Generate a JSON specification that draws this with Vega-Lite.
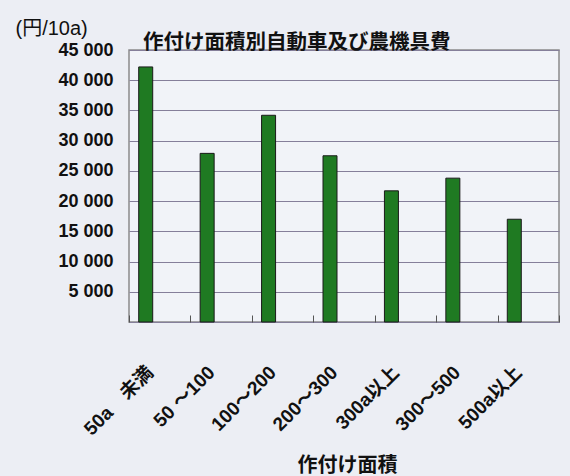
{
  "$schema": "https://vega.github.io/schema/vega-lite/v6.json",
  "width": 430,
  "height": 272,
  "autosize": {"type": "none"},
  "padding": {"left": 129, "top": 50, "right": 11, "bottom": 154},
  "background": "#eceef4",
  "config": {
    "view": {"stroke": "#8a8a8a", "strokeWidth": 1.5, "fill": "#f1f3f8"},
    "font": "Liberation Sans, Noto Sans CJK JP"
  },
  "title": {
    "text": "作付け面積別自動車及び農機具費",
    "anchor": "start",
    "frame": "group",
    "dx": 14,
    "dy": 39,
    "offset": 4,
    "fontSize": 20.5,
    "fontWeight": "bold",
    "font": "Noto Sans CJK JP",
    "color": "#111111"
  },
  "data": {
    "values": [
      {"area": "50a　未満", "cost": 42200},
      {"area": "50 ～100", "cost": 27900},
      {"area": "100～200", "cost": 34200},
      {"area": "200～300", "cost": 27500},
      {"area": "300a以上", "cost": 21700},
      {"area": "300～500", "cost": 23800},
      {"area": "500a以上", "cost": 17000}
    ]
  },
  "mark": {"type": "bar", "width": 14, "xOffset": -14, "fill": "#1f7a22", "stroke": "#1a1a1a", "strokeWidth": 1},
  "encoding": {
    "x": {
      "field": "area",
      "type": "nominal",
      "sort": null,
      "scale": {"paddingInner": 0, "paddingOuter": 0},
      "axis": {
        "title": "作付け面積",
        "titleFont": "Noto Sans CJK JP",
        "titleFontSize": 20,
        "titleFontWeight": "bold",
        "titleColor": "#111111",
        "titleBaseline": "alphabetic",
        "titleY": 149,
        "titleX": 218,
        "labelAngle": -45,
        "labelAlign": "right",
        "labelBaseline": "middle",
        "labelFontSize": 19,
        "labelFontWeight": "bold",
        "labelColor": "#111111",
        "labelPadding": 54,
        "labelOffset": -10,
        "tickBand": "extent",
        "tickSize": -7,
        "tickColor": "#555555",
        "domain": false,
        "grid": false
      }
    },
    "y": {
      "field": "cost",
      "type": "quantitative",
      "scale": {"domain": [0, 45000]},
      "axis": {
        "title": "(円/10a)",
        "titleAngle": 0,
        "titleAlign": "left",
        "titleBaseline": "alphabetic",
        "titleX": -114,
        "titleY": -16,
        "titleFontSize": 20,
        "titleFontWeight": "normal",
        "titleColor": "#111111",
        "values": [0, 5000, 10000, 15000, 20000, 25000, 30000, 35000, 40000, 45000],
        "labelExpr": "datum.value == 0 ? '' : replace(format(datum.value, ','), ',', ' ')",
        "labelFontSize": 18,
        "labelFontWeight": "bold",
        "labelColor": "#111111",
        "labelPadding": 16,
        "ticks": false,
        "domain": false,
        "grid": true,
        "gridColor": "#857f9a",
        "gridWidth": 1
      }
    }
  }
}
